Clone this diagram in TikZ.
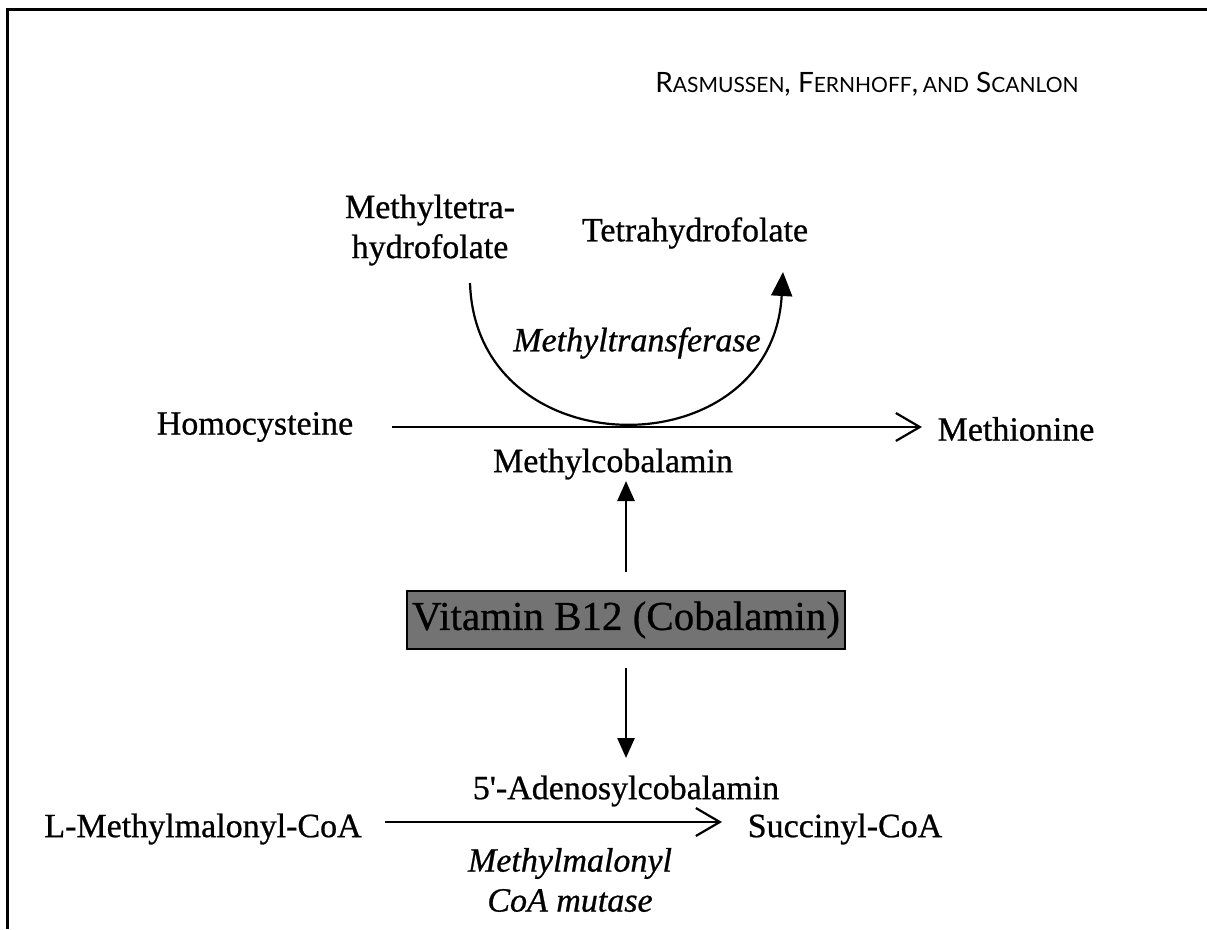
\documentclass[tikz,border=0pt]{standalone}
\usepackage{fontspec}
\setmainfont{Liberation Serif}[FakeBold=0.7]
\newfontfamily\rawserif{Liberation Serif}[FakeBold=0.7,Ligatures=TeXOff]
\newfontfamily\hdrfont{Lato}
\usetikzlibrary{arrows.meta}
\tikzset{
  lbl/.style={inner sep=0pt, font=\fontsize{34}{40}\selectfont, align=center},
  ilbl/.style={lbl, font=\fontsize{34}{40}\selectfont\itshape},
  reac/.style={line width=2.2pt, -{Straight Barb[length=24pt,width=28pt,line width=2.2pt]}},
  solidarr/.style={line width=2.6pt, -{Triangle[length=20pt,width=17pt]}},
}
\newcommand{\smc}[1]{{\fontsize{21}{24}\selectfont #1}}
\begin{document}
\begin{tikzpicture}[x=1pt,y=-1pt]
\useasboundingbox (0,0) rectangle (1207,929);
\fill[white] (0,0) rectangle (1207,929);
% frame
\draw[line width=3pt] (7,929) -- (7,9) -- (1207,9);
% header
\node[inner sep=0pt, font=\hdrfont\fontsize{28}{32}\selectfont] (hdr) at (867,84)
  {R\smc{ASMUSSEN}, F\smc{ERNHOFF},\,\smc{AND} S\smc{CANLON}};
% top reaction
\node[lbl] (mthf) at (430,230) {Methyltetra-\\hydrofolate};
\node[lbl] (thf) at (695,233) {Tetrahydrofolate};
\node[ilbl] (mtr) at (637,343) {Methyltransferase};
\node[lbl] (hcy) at (255,427) {Homocysteine};
\node[lbl] (met) at (1016,429) {Methionine};
\node[lbl] (mcbl) at (613,464) {Methylcobalamin};
\coordinate (arcS) at (470,283);
\coordinate (arcE) at (783,272);
\draw[line width=2.2pt, -{Triangle[length=24pt,width=21pt]}]
  (arcS) .. controls (476,470) and (772,470) .. (arcE);
\coordinate (hA) at (392,427);
\coordinate (hB) at (922,427);
\draw[reac] (hA) -- (hB);
% vitamin box
\node[draw=black, line width=1.5pt, fill=black!55, minimum width=438pt, minimum height=58pt,
  inner sep=0pt, font=\fontsize{41}{46}\selectfont] (b12) at (626,620) {Vitamin B12 (Cobalamin)};
\coordinate (upS) at (626,572);
\coordinate (upE) at (626,481);
\draw[solidarr] (upS) -- (upE);
\coordinate (dnS) at (626,668);
\coordinate (dnE) at (626,758);
\draw[solidarr] (dnS) -- (dnE);
% bottom reaction
\node[lbl, font=\rawserif\fontsize{34}{40}\selectfont] (ado) at (626,791) {5'-Adenosylcobalamin};
\node[lbl] (mmc) at (203,829) {L-Methylmalonyl-CoA};
\node[lbl] (suc) at (845,829) {Succinyl-CoA};
\coordinate (bA) at (385,822);
\coordinate (bB) at (722,822);
\draw[reac] (bA) -- (bB);
\node[ilbl] (mut) at (570,880) {Methylmalonyl\\CoA mutase};
\end{tikzpicture}
\end{document}
